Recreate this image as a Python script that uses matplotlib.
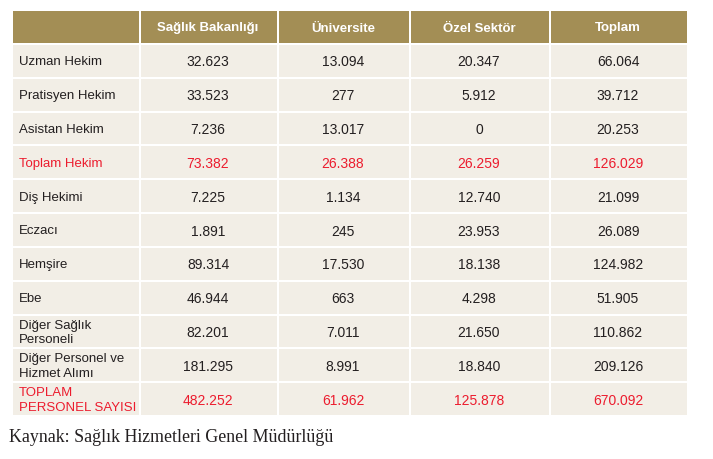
import matplotlib.pyplot as plt
from matplotlib.patches import Rectangle

columns = ['Sağlık Bakanlığı', 'Üniversite', 'Özel Sektör', 'Toplam']
rows = ['Uzman Hekim', 'Pratisyen Hekim', 'Asistan Hekim', 'Toplam Hekim',
        'Diş Hekimi', 'Eczacı', 'Hemşire', 'Ebe', 'Diğer Sağlık\nPersoneli',
        'Diğer Personel ve\nHizmet Alımı', 'TOPLAM\nPERSONEL SAYISI']
saglik = ['32.623', '33.523', '7.236', '73.382', '7.225', '1.891', '89.314',
          '46.944', '82.201', '181.295', '482.252']
universite = ['13.094', '277', '13.017', '26.388', '1.134', '245', '17.530',
              '663', '7.011', '8.991', '61.962']
ozel = ['20.347', '5.912', '0', '26.259', '12.740', '23.953', '18.138',
        '4.298', '21.650', '18.840', '125.878']
toplam = ['66.064', '39.712', '20.253', '126.029', '21.099', '26.089', '124.982',
          '51.905', '110.862', '209.126', '670.092']
red_rows = ['Toplam Hekim', 'TOPLAM\nPERSONEL SAYISI']
source = 'Kaynak: Sağlık Hizmetleri Genel Müdürlüğü'

sans = 'Liberation Sans'

W, H = 713, 459
fig = plt.figure(figsize=(W / 100, H / 100), dpi=100)
ax = fig.add_axes([0, 0, 1, 1])
ax.set_xlim(0, W)
ax.set_ylim(H, 0)
ax.axis('off')

col_x = [13, 139, 277, 409, 549, 687]
top, head_h = 11, 32
row_h = (416 - 44) / len(rows)
gap = 2
header_c = '#A38E55'
cell_c = '#F2EEE6'
dark = '#231F20'
red = '#EC1C2E'

# header
for i in range(5):
    x0, x1 = col_x[i], col_x[i + 1]
    ax.add_patch(Rectangle((x0 + gap * (i > 0), top), x1 - x0 - gap * (i > 0), head_h,
                           color=header_c, lw=0))
    if i > 0:
        ax.text((x0 + x1) / 2, top + head_h / 2 + 1.5, columns[i - 1], ha='center',
                va='center', color='white', fontsize=9.5, fontweight='bold', family=sans)

data = [saglik, universite, ozel, toplam]
for r, label in enumerate(rows):
    y0 = top + head_h + r * row_h
    yc = y0 + gap + (row_h - gap) / 2 + 1.5
    color = red if label in red_rows else dark
    for i in range(5):
        x0, x1 = col_x[i], col_x[i + 1]
        ax.add_patch(Rectangle((x0 + gap * (i > 0), y0 + gap), x1 - x0 - gap * (i > 0),
                               row_h - gap, color=cell_c, lw=0))
    ax.text(19, yc, label, ha='left', va='center', color=color, fontsize=9.5,
            family=sans, linespacing=1.3)
    for i, col in enumerate(data):
        x0, x1 = col_x[i + 1], col_x[i + 2]
        ax.text((x0 + x1) / 2, yc, col[r], ha='center', va='center', color=color,
                fontsize=10, family=sans)

ax.text(9, 437, source, ha='left', va='center', color=dark, fontsize=12.9,
        family='Liberation Serif')

fig.savefig('out.png', dpi=100)
